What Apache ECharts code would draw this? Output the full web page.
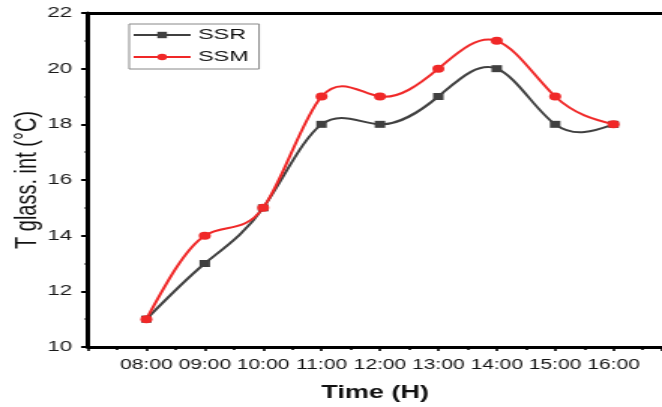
<!DOCTYPE html>
<html><head><meta charset="utf-8">
<script src="https://cdn.jsdelivr.net/npm/echarts@6/dist/echarts.min.js"></script>
<style>
html,body{margin:0;padding:0;background:#fff;overflow:hidden}
#wrap{width:662px;height:407px;overflow:hidden}
#c{width:441px;height:407px;transform:scaleX(1.501134);transform-origin:0 0}
</style>
</head><body><div id="wrap"><div id="c"></div></div>
<script>
const categories = ['08:00','09:00','10:00','11:00','12:00','13:00','14:00','15:00','16:00'];
const ssr = [11, 13, 15, 18, 18, 19, 20, 18, 18];
const ssm = [11, 14, 15, 19, 19, 20, 21, 19, 18];
const yTicks = [10, 12, 14, 16, 18, 20, 22];

const SSR_COLOR = '#404040', SSM_COLOR = '#f02828';
const toPts = arr => arr.map((v, i) => [i + 1, v]);
const font = 'Liberation Sans, Arial, sans-serif';

// natural cubic spline through the projected points, drawn as bezier segments
function splineGroup(pts, color) {
  const n = pts.length;
  const h = [], M = new Array(n).fill(0);
  for (let i = 0; i < n - 1; i++) h.push(pts[i + 1][0] - pts[i][0]);
  const a = [], b = [], c = [], r = [];
  for (let i = 1; i < n - 1; i++) {
    a.push(h[i - 1]); b.push(2 * (h[i - 1] + h[i])); c.push(h[i]);
    r.push(6 * ((pts[i + 1][1] - pts[i][1]) / h[i] - (pts[i][1] - pts[i - 1][1]) / h[i - 1]));
  }
  const m = b.length;
  for (let i = 1; i < m; i++) {
    const w = a[i] / b[i - 1];
    b[i] -= w * c[i - 1]; r[i] -= w * r[i - 1];
  }
  const sol = new Array(m);
  for (let i = m - 1; i >= 0; i--) sol[i] = (r[i] - (i < m - 1 ? c[i] * sol[i + 1] : 0)) / b[i];
  for (let i = 0; i < m; i++) M[i + 1] = sol[i];
  const children = [];
  for (let i = 0; i < n - 1; i++) {
    const [x0, y0] = pts[i], [x1, y1] = pts[i + 1], hh = h[i];
    const s = (y1 - y0) / hh;
    const d0 = s - hh * (2 * M[i] + M[i + 1]) / 6;
    const d1 = s + hh * (M[i] + 2 * M[i + 1]) / 6;
    children.push({
      type: 'bezierCurve',
      shape: { x1: x0, y1: y0, x2: x1, y2: y1,
        cpx1: x0 + hh / 3, cpy1: y0 + d0 * hh / 3,
        cpx2: x1 - hh / 3, cpy2: y1 - d1 * hh / 3 },
      style: { stroke: color, lineWidth: 2, fill: null }
    });
  }
  return { type: 'group', children };
}
function curveSeries(name, vals, color) {
  return {
    name: name, type: 'custom', data: toPts(vals), z: 2,
    renderItem: (params, api) => {
      if (params.dataIndex !== 0) return null;
      const pts = vals.map((v, i) => api.coord([i + 1, v]));
      return splineGroup(pts, color);
    }
  };
}

const chart = echarts.init(document.getElementById('c'));
chart.setOption({
  animation: false,
  grid: { left: 58.6, top: 13, right: 0, bottom: 60, containLabel: false, outerBoundsMode: 'none' },
  legend: {
    orient: 'vertical', left: 86, top: 24,
    data: [
      { name: 'SSR', lineStyle: { opacity: 1, width: 2, color: SSR_COLOR } },
      { name: 'SSM', lineStyle: { opacity: 1, width: 2, color: SSM_COLOR } }
    ],
    borderColor: '#888', borderWidth: 1, padding: [2, 7, 3, 2],
    itemWidth: 38, itemHeight: 8, itemGap: 4,
    textStyle: { fontFamily: font, fontSize: 15.5, lineHeight: 18, color: '#111' }
  },
  xAxis: [{
    type: 'value', min: 0, max: 9.83, interval: 1,
    axisLine: { lineStyle: { color: '#000', width: 3 } },
    axisTick: { length: 4, lineStyle: { color: '#000', width: 1.6 } },
    minorTick: { show: true, splitNumber: 2, length: 3, lineStyle: { color: '#000', width: 1.6 } },
    splitLine: { show: false },
    axisLabel: {
      margin: 11, fontFamily: font, fontSize: 14, color: '#111',
      formatter: v => (v >= 1 && v <= categories.length && Number.isInteger(v)) ? categories[v - 1] : ''
    },
    name: 'Time (H)', nameLocation: 'middle', nameGap: 37, nameMoveOverlap: false,
    nameTextStyle: { fontFamily: font, fontSize: 18, fontWeight: 'bold', color: '#111' }
  }, {
    type: 'value', position: 'top', min: 0, max: 9.83,
    axisLine: { show: true, lineStyle: { color: '#000', width: 3 } },
    axisTick: { show: false }, axisLabel: { show: false }, splitLine: { show: false }
  }],
  yAxis: {
    type: 'value', min: 10, max: 22, interval: 2,
    axisLine: { show: true, lineStyle: { color: '#000', width: 3 } },
    axisTick: { show: true, length: 4.5, lineStyle: { color: '#000', width: 2 } },
    minorTick: { show: true, splitNumber: 2, length: 2, lineStyle: { color: '#000', width: 2 } },
    splitLine: { show: false },
    axisLabel: {
      margin: 10.5, fontFamily: font, fontSize: 15, color: '#1a1a1a',
      formatter: v => yTicks.includes(v) ? String(v) : ''
    },
    name: 'T glass. int (°C)', nameLocation: 'middle', nameGap: 30, nameMoveOverlap: false,
    nameTextStyle: { fontFamily: font, fontSize: 20, color: '#111' }
  },
  series: [
    curveSeries('SSR curve', ssr, SSR_COLOR),
    curveSeries('SSM curve', ssm, SSM_COLOR),
    {
      name: 'SSR', type: 'line', data: toPts(ssr), z: 3,
      symbol: 'rect', symbolSize: 7, color: SSR_COLOR,
      lineStyle: { width: 2, color: SSR_COLOR, opacity: 0 }, itemStyle: { color: SSR_COLOR }
    }, {
      name: 'SSM', type: 'line', data: toPts(ssm), z: 4,
      symbol: 'circle', symbolSize: 8, color: SSM_COLOR,
      lineStyle: { width: 2, color: SSM_COLOR, opacity: 0 }, itemStyle: { color: SSM_COLOR }
    }
  ]
});
</script></body></html>
